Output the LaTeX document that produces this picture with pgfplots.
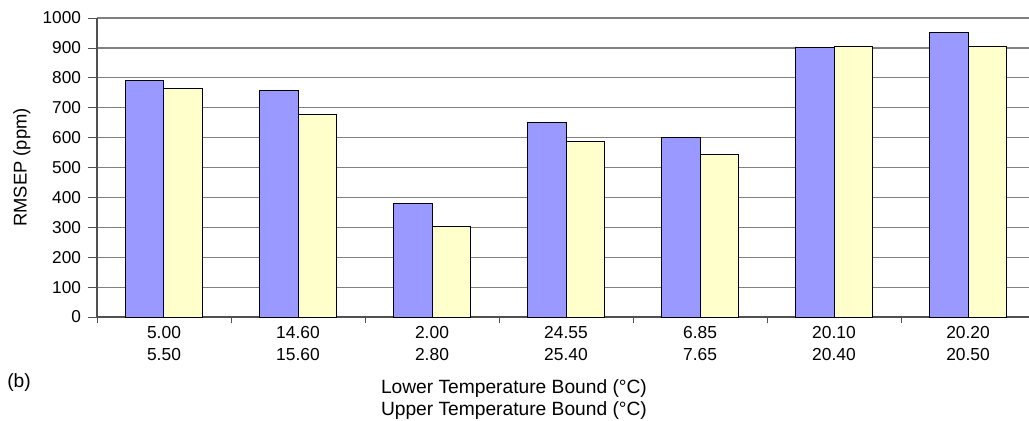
\documentclass[border=0pt]{standalone}
\usepackage{fontspec}
\setmainfont{Liberation Sans}
\usepackage{pgfplots}
\pgfplotsset{compat=1.18}
\definecolor{barblue}{HTML}{9999FF}
\definecolor{baryellow}{HTML}{FFFFCC}
\definecolor{gridgray}{HTML}{808080}
\definecolor{axisgray}{HTML}{505050}
\begin{document}
\begin{tikzpicture}
\begin{axis}[
  scale only axis,
  width=466pt, height=149.5pt,
  xmin=-0.5, xmax=6.455,
  ymin=0, ymax=1000,
  ytick={0,100,...,1000},
  xtick={0,...,6},
  xticklabels={{5.00\\5.50},{14.60\\15.60},{2.00\\2.80},{24.55\\25.40},{6.85\\7.65},{20.10\\20.40},{20.20\\20.50}},
  x tick label style={align=center, font=\fontsize{8.7}{11}\selectfont, yshift=3.5pt},
  y tick label style={font=\fontsize{8.6}{11}\selectfont},
  /pgf/number format/assume math mode=true,
  /pgf/number format/1000 sep={},
  major x tick style={draw=none},
  minor xtick={-0.5,0.5,1.5,2.5,3.5,4.5,5.5},
  minor x tick style={axisgray, thin},
  minor tick length=3pt,
  y tick style={axisgray, thin},
  major tick length=4.5pt,
  tick align=outside,
  ymajorgrids,
  grid style={gridgray, line width=0.6pt},
  axis x line*=bottom,
  axis y line*=left,
  axis line style={axisgray, line width=0.7pt},
  ybar=0pt,
  bar width=19.25pt,
  ylabel={RMSEP (ppm)},
  ylabel style={at={(axis description cs:-0.0805,0.5)}, anchor=center, font=\fontsize{9.2}{11}\selectfont},
  xlabel={Lower Temperature Bound (°C)\\Upper Temperature Bound (°C)},
  xlabel style={at={(axis description cs:0.4474,-0.2776)}, anchor=center, align=center, font=\fontsize{9.6}{11}\selectfont},
  clip=false,
]
\addplot[fill=barblue, draw=black, line width=0.5pt] coordinates {(0,790) (1,757) (2,381) (3,650) (4,600) (5,903) (6,951)};
\addplot[fill=baryellow, draw=black, line width=0.5pt] coordinates {(0,765) (1,676) (2,304) (3,587) (4,545) (5,906) (6,905)};
\end{axis}
\node[anchor=center, font=\fontsize{9.6}{11}\selectfont] at (-39pt,-33pt) {(b)};
\pgfresetboundingbox
\useasboundingbox (-48.5pt,-51.5pt) rectangle (466pt,158.5pt);
\end{tikzpicture}
\end{document}
